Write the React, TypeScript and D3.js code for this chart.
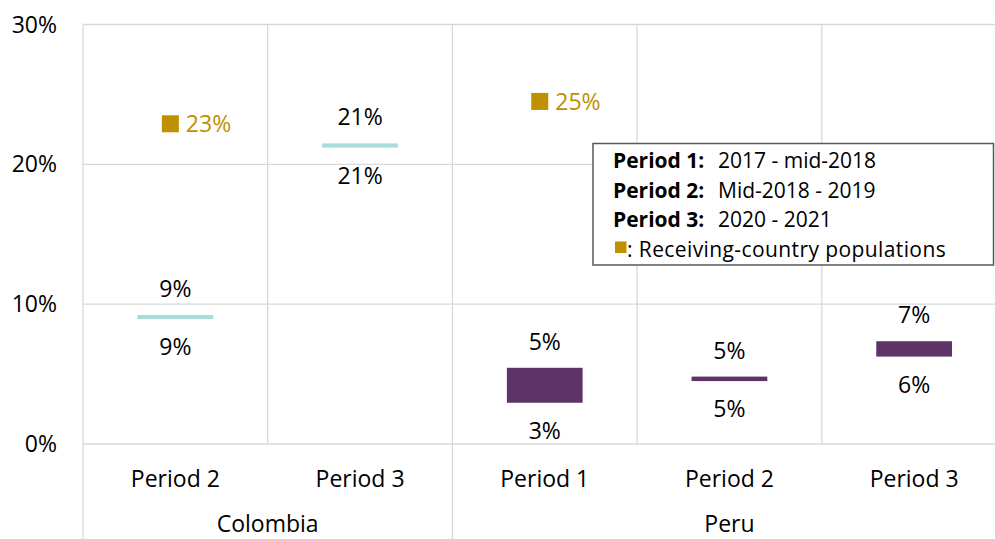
import React, { useRef, useEffect } from "react";
import * as d3 from "d3";

// categories (two-level axis)
const categoryGroup = ["Colombia", "Colombia", "Peru", "Peru", "Peru"];
const categoryPeriod = ["Period 2", "Period 3", "Period 1", "Period 2", "Period 3"];
const groups = ["Colombia", "Peru"];

// floating bar ranges (%)
const lowValues = [8.93, 21.2, 2.95, 4.5, 6.25];
const highValues = [9.23, 21.5, 5.45, 4.82, 7.35];
const lowLabels = ["9%", "21%", "3%", "5%", "6%"];
const highLabels = ["9%", "21%", "5%", "5%", "7%"];

// receiving-country populations
const receivingValues = [22.9, null, 24.5, null, null];
const receivingLabels = ["23%", "", "25%", "", ""];

const yTicks = [0, 10, 20, 30];

const legendPeriods = ["Period 1:", "Period 2:", "Period 3:"];
const legendRanges = ["2017 - mid-2018", "Mid-2018 - 2019", "2020 - 2021"];
const legendMarkerText = ": Receiving-country populations";

const groupColors = { Colombia: "#A9DDDB", Peru: "#5E3468" };
const gold = "#BF9000";

const App = () => {
  const svgRef = useRef(null);

  useEffect(() => {
    const width = 995;
    const height = 539;
    const left = 83;
    const bandW = 184.7;
    const font = "'Open Sans', sans-serif";

    const keys = categoryPeriod.map((p, i) => categoryGroup[i] + "|" + p);

    const x = d3
      .scaleBand()
      .domain(keys)
      .range([left, left + bandW * keys.length])
      .padding(0);

    const y = d3.scaleLinear().domain([0, 30]).range([444, 24.5]);

    const svg = d3.select(svgRef.current);
    svg.selectAll("*").remove();
    svg.attr("width", width).attr("height", height);

    svg.append("rect").attr("width", width).attr("height", height).attr("fill", "#fff");

    const grid = svg.append("g").attr("stroke", "#d9d9d9").attr("stroke-width", 1.3);

    // horizontal gridlines
    grid
      .selectAll("line.h")
      .data(yTicks)
      .enter()
      .append("line")
      .attr("x1", left)
      .attr("x2", x.range()[1])
      .attr("y1", (d) => y(d))
      .attr("y2", (d) => y(d));

    // vertical category lines
    const boundaries = keys.map((k) => x(k)).concat([x.range()[1]]);
    grid
      .selectAll("line.v")
      .data(boundaries)
      .enter()
      .append("line")
      .attr("x1", (d) => d)
      .attr("x2", (d) => d)
      .attr("y1", y(30))
      .attr("y2", (d, i) => {
        // group separators run down through the label rows
        const isGroupEdge = i === 0 || i === keys.length || categoryGroup[i] !== categoryGroup[i - 1];
        return isGroupEdge ? height : y(0);
      });

    // y axis labels
    svg
      .append("g")
      .selectAll("text")
      .data(yTicks)
      .enter()
      .append("text")
      .attr("x", 57)
      .attr("y", (d) => y(d) + 8)
      .attr("text-anchor", "end")
      .style("font-family", font)
      .style("font-size", "23px")
      .style("fill", "#000")
      .text((d) => d + "%");

    // period labels
    svg
      .append("g")
      .selectAll("text")
      .data(keys)
      .enter()
      .append("text")
      .attr("x", (d) => x(d) + x.bandwidth() / 2)
      .attr("y", 486.5)
      .attr("text-anchor", "middle")
      .style("font-family", font)
      .style("font-size", "23px")
      .style("fill", "#000")
      .text((d, i) => categoryPeriod[i]);

    // group labels
    svg
      .append("g")
      .selectAll("text")
      .data(groups)
      .enter()
      .append("text")
      .attr("x", (g) => {
        const members = keys.filter((k, i) => categoryGroup[i] === g);
        return (x(members[0]) + x(members[members.length - 1]) + x.bandwidth()) / 2;
      })
      .attr("y", 532)
      .attr("text-anchor", "middle")
      .style("font-family", font)
      .style("font-size", "23px")
      .style("fill", "#000")
      .text((g) => g);

    // floating bars
    const barW = x.bandwidth() * 0.41;
    const bars = svg.append("g");
    bars
      .selectAll("rect")
      .data(keys)
      .enter()
      .append("rect")
      .attr("x", (d) => x(d) + (x.bandwidth() - barW) / 2)
      .attr("width", barW)
      .attr("y", (d, i) => y(highValues[i]))
      .attr("height", (d, i) => y(lowValues[i]) - y(highValues[i]))
      .attr("fill", (d, i) => groupColors[categoryGroup[i]]);

    // high labels
    bars
      .selectAll("text.hi")
      .data(keys)
      .enter()
      .append("text")
      .attr("x", (d) => x(d) + x.bandwidth() / 2)
      .attr("y", (d, i) => y(highValues[i]) - 18)
      .attr("text-anchor", "middle")
      .style("font-family", font)
      .style("font-size", "23px")
      .style("fill", "#000")
      .text((d, i) => highLabels[i]);

    // low labels
    bars
      .selectAll("text.lo")
      .data(keys)
      .enter()
      .append("text")
      .attr("x", (d) => x(d) + x.bandwidth() / 2)
      .attr("y", (d, i) => y(lowValues[i]) + 36)
      .attr("text-anchor", "middle")
      .style("font-family", font)
      .style("font-size", "23px")
      .style("fill", "#000")
      .text((d, i) => lowLabels[i]);

    // receiving-country markers
    const recv = keys
      .map((k, i) => ({ key: k, value: receivingValues[i], label: receivingLabels[i] }))
      .filter((d) => d.value != null);
    const ms = 17;
    const marks = svg.append("g");
    marks
      .selectAll("rect")
      .data(recv)
      .enter()
      .append("rect")
      .attr("x", (d) => x(d.key) + x.bandwidth() / 2 - 5 - ms / 2)
      .attr("y", (d) => y(d.value) - ms / 2)
      .attr("width", ms)
      .attr("height", ms)
      .attr("fill", gold);
    marks
      .selectAll("text")
      .data(recv)
      .enter()
      .append("text")
      .attr("x", (d) => x(d.key) + x.bandwidth() / 2 - 5 + ms / 2 + 7)
      .attr("y", (d) => y(d.value) + 8.5)
      .style("font-family", font)
      .style("font-size", "23px")
      .style("fill", gold)
      .text((d) => d.label);

    // legend box
    const legend = svg.append("g");
    legend
      .append("rect")
      .attr("x", 593)
      .attr("y", 143.5)
      .attr("width", 400.5)
      .attr("height", 121.5)
      .attr("fill", "#fff")
      .attr("stroke", "#595959")
      .attr("stroke-width", 1.5);

    const lineY = [168, 197.5, 227, 256.5];
    legend
      .selectAll("text.p")
      .data(legendPeriods)
      .enter()
      .append("text")
      .attr("x", 613)
      .attr("y", (d, i) => lineY[i])
      .style("font-family", font)
      .style("font-size", "21px")
      .style("font-weight", 700)
      .style("fill", "#000")
      .text((d) => d);
    legend
      .selectAll("text.r")
      .data(legendRanges)
      .enter()
      .append("text")
      .attr("x", 718)
      .attr("y", (d, i) => lineY[i])
      .style("font-family", font)
      .style("font-size", "21px")
      .style("fill", "#000")
      .text((d) => d);
    legend
      .append("rect")
      .attr("x", 615)
      .attr("y", lineY[3] - 15)
      .attr("width", 11.5)
      .attr("height", 11.5)
      .attr("fill", gold);
    legend
      .append("text")
      .attr("x", 627)
      .attr("y", lineY[3])
      .style("font-family", font)
      .style("font-size", "21px")
      .style("letter-spacing", "0.4px")
      .style("fill", "#000")
      .text(legendMarkerText);
  }, []);

  return (
    <div style={{ position: "absolute", left: 0, top: 0 }}>
      <svg ref={svgRef} style={{ display: "block" }}></svg>
    </div>
  );
};

export default App;
